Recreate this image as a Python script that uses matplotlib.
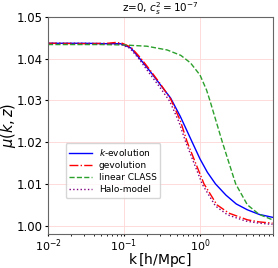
import matplotlib
matplotlib.use("Agg")
import matplotlib.pyplot as plt

# k-evolution
k_kev = [0.01, 0.03, 0.06, 0.09, 0.123, 0.165, 0.22, 0.30, 0.41, 0.55, 0.79, 1.0, 1.25, 1.6, 2.2, 3.0, 4.2, 6.0, 9.0]
mu_kev = [1.0437, 1.0437, 1.0436, 1.0436, 1.0426, 1.0398, 1.0370, 1.0338, 1.0306, 1.0262, 1.0200, 1.0160, 1.0128, 1.0100, 1.0073, 1.0052, 1.0038, 1.0027, 1.0020]

# gevolution
k_gev = [0.01, 0.03, 0.06, 0.078, 0.095, 0.123, 0.165, 0.22, 0.30, 0.41, 0.55, 0.68, 0.88, 1.13, 1.67, 2.4, 4.2, 6.0, 9.0]
mu_gev = [1.0437, 1.0436, 1.0437, 1.0439, 1.0437, 1.0428, 1.0402, 1.0373, 1.0340, 1.0304, 1.0252, 1.0200, 1.0149, 1.0100, 1.0050, 1.0030, 1.0014, 1.0009, 1.0006]

# linear CLASS
k_lin = [0.01, 0.05, 0.1, 0.2, 0.37, 0.56, 0.75, 1.0, 1.22, 1.35, 1.97, 2.95, 4.2, 6.0, 9.0]
mu_lin = [1.0434, 1.0434, 1.0433, 1.0430, 1.0421, 1.0408, 1.0390, 1.0361, 1.0325, 1.0300, 1.0200, 1.0100, 1.0050, 1.0027, 1.0014]

# Halo-model
k_halo = [0.01, 0.03, 0.06, 0.09, 0.12, 0.16, 0.21, 0.29, 0.40, 0.53, 0.65, 0.85, 1.08, 1.6, 2.3, 4.0, 6.0, 9.0]
mu_halo = [1.0437, 1.0437, 1.0436, 1.0435, 1.0425, 1.0398, 1.0368, 1.0334, 1.0298, 1.0248, 1.0200, 1.0146, 1.0098, 1.0047, 1.0026, 1.0011, 1.0006, 1.0003]

title = r"z=0, $c_s^2=10^{-7}$"

fig = plt.figure(figsize=(2.78, 2.68), dpi=100)
L, R, T, B = 48, 272.5, 17, 234
ax = fig.add_axes([L/278, 1-B/268, (R-L)/278, (B-T)/268])

ax.plot(k_kev, mu_kev, color="blue", lw=1.0, ls="-", label=r"$k$-evolution")
ax.plot(k_gev, mu_gev, color="red", lw=1.0, ls="-.", label="gevolution")
ax.plot(k_lin, mu_lin, color="tab:green", lw=1.0, ls="--", label="linear CLASS")
ax.plot(k_halo, mu_halo, color="purple", lw=1.0, ls=":", label="Halo-model")

ax.set_xscale("log")
ax.set_xlim(0.01, 9.0)
ax.set_ylim(0.998, 1.05)
ax.set_yticks([1.00, 1.01, 1.02, 1.03, 1.04, 1.05])
ax.set_xticks([0.01, 0.1, 1.0])
ax.tick_params(axis="y", labelsize=8.5, length=2.5, pad=1.5)
ax.tick_params(axis="x", labelsize=8, length=1.5, pad=0.8)
ax.tick_params(which="minor", length=1.5)
ax.grid(True, color="#ffd6d6", lw=0.6)
ax.set_axisbelow(True)
for s in ax.spines.values():
    s.set_color("#666666")

ax.set_title(title, fontsize=7.5, pad=1)
ax.set_xlabel(r"k$\,$[h/Mpc]", fontsize=10)
ax.xaxis.set_label_coords(0.5, -0.08)
ax.set_ylabel(r"$\mu(k,z)$", fontsize=10.5)
ax.yaxis.set_label_coords(-0.135, 0.5)

ax.legend(loc="lower left", bbox_to_anchor=(0.078, 0.167), borderaxespad=0,
          fontsize=6.5, handlelength=2.5, labelspacing=0.35, framealpha=0.8)

fig.savefig("out.png", dpi=100)
